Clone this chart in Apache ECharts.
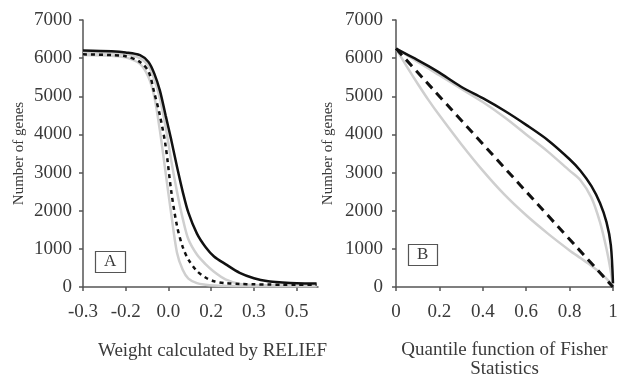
<!DOCTYPE html>
<html>
<head>
<meta charset="utf-8">
<script src="https://cdn.jsdelivr.net/npm/echarts@6/dist/echarts.min.js"></script>
<style>
  html, body { margin: 0; padding: 0; background: #fff; }
  #container { width: 618px; height: 375px; }
</style>
</head>
<body>
<div id="container"></div>
<script>
// panel A: weight calculated by RELIEF
var xA = [-0.3, -0.2, -0.15, -0.1, -0.07, -0.05, -0.03, -0.01, 0.01, 0.03, 0.05, 0.07, 0.1, 0.13, 0.16, 0.2, 0.25, 0.3, 0.35, 0.4, 0.45, 0.52];
var blackA  = [6200, 6180, 6150, 6080, 5900, 5600, 5150, 4500, 3850, 3150, 2500, 1950, 1400, 1050, 800, 600, 370, 230, 150, 120, 100, 90];
var grayMidA = [6150, 6130, 6100, 6000, 5800, 5450, 4950, 4200, 3300, 2500, 1800, 1250, 850, 600, 400, 200, 80, 50, 45, 40, 40, 40];
var dashA   = [6100, 6080, 6050, 5900, 5650, 5100, 4500, 3700, 2500, 1600, 1050, 720, 420, 250, 150, 100, 80, 70, 65, 60, 60, 60];
var grayLowA = [6080, 6060, 6020, 5850, 5500, 5000, 4100, 3000, 1900, 900, 450, 220, 100, 60, 40, 30, 25, 20, 20, 20, 20, 20];
var xTickValuesA = [-0.3, -0.15, 0, 0.15, 0.3, 0.45];
var xTickLabelsA = ['-0.3', '-0.2', '0.0', '0.2', '0.3', '0.5'];

// panel B: quantile function of Fisher statistics
var xB = [0, 0.05, 0.1, 0.15, 0.2, 0.3, 0.4, 0.5, 0.6, 0.7, 0.8, 0.85, 0.9, 0.94, 0.97, 0.99, 1.0];
var blackB   = [6250, 6100, 5950, 5790, 5620, 5250, 4950, 4620, 4250, 3850, 3350, 3050, 2650, 2200, 1700, 1100, 100];
var grayHighB = [6250, 6080, 5900, 5730, 5550, 5200, 4850, 4450, 4000, 3550, 3050, 2800, 2350, 1700, 1000, 400, 0];
var grayLowB = [6250, 5780, 5330, 4900, 4500, 3750, 3050, 2420, 1880, 1400, 960, 760, 560, 380, 220, 90, 0];
var dashB = [6250, 0];
var dashXB = [0, 1];

var yTicks = [0, 1000, 2000, 3000, 4000, 5000, 6000, 7000];

function pairs(xs, ys) {
  return xs.map(function (x, i) { return [x, ys[i]]; });
}

var font = 'Liberation Serif';
var txt = '#3a3a3a';
var axisCol = '#555';
var grayCol = '#cfcfcf';

function yAxis(idx, gap, margin) {
  return {
    type: 'value', gridIndex: idx, min: yTicks[0], max: yTicks[yTicks.length - 1], interval: 1000,
    name: 'Number of genes', nameLocation: 'middle', nameGap: gap,
    nameTextStyle: { fontFamily: font, fontSize: 15, color: txt },
    axisLine: { show: true, onZero: false, lineStyle: { color: axisCol, width: 1.5 } },
    axisTick: { show: true, length: 4, lineStyle: { color: axisCol, width: 1.5 } },
    axisLabel: { fontFamily: font, fontSize: 19, color: txt, margin: margin,
      formatter: function (v) { return String(v); } },
    splitLine: { show: false }
  };
}

function line(idx, data, color, width, type) {
  return {
    type: 'line', xAxisIndex: idx, yAxisIndex: idx, data: data,
    smooth: 0.3, showSymbol: false, symbol: 'none', z: color === grayCol ? 2 : 3,
    lineStyle: { color: color, width: width, type: type || 'solid' }
  };
}

var myChart = echarts.init(document.getElementById('container'), null, { renderer: 'canvas' });

var boxText = { fontFamily: font, fontSize: 17, lineHeight: 16, fontWeight: 'normal', color: txt };

var option = {
  animation: false,
  backgroundColor: '#fff',
  title: [
    { text: 'A', left: 95, top: 252, padding: [2, 9, 2, 9], borderColor: axisCol, borderWidth: 1.2, textStyle: boxText },
    { text: 'B', left: 408, top: 245, padding: [2, 9, 2, 9], borderColor: axisCol, borderWidth: 1.2, textStyle: boxText }
  ],
  grid: [
    { left: 83, top: 20, width: 235, height: 267, outerBoundsMode: 'none' },
    { left: 396, top: 20, width: 217, height: 267, outerBoundsMode: 'none' }
  ],
  xAxis: [
    {
      type: 'value', gridIndex: 0, min: -0.3, max: 0.525,
      name: 'Weight calculated by RELIEF', nameLocation: 'middle', nameGap: 55,
      nameTextStyle: { fontFamily: font, fontSize: 19, color: txt, verticalAlign: 'top', padding: [0, 0, 0, 24] },
      axisLine: { show: true, onZero: false, lineStyle: { color: axisCol, width: 1.5 } },
      axisTick: { show: true, length: 4, customValues: xTickValuesA, lineStyle: { color: axisCol, width: 1.5 } },
      axisLabel: {
        fontFamily: font, fontSize: 19, color: txt, margin: 16, customValues: xTickValuesA,
        formatter: function (v) {
          var i = Math.round((v - xTickValuesA[0]) / 0.15);
          return xTickLabelsA[i] || '';
        }
      },
      splitLine: { show: false }
    },
    {
      type: 'value', gridIndex: 1, min: 0, max: 1, interval: 0.2,
      name: 'Quantile function of Fisher\nStatistics', nameLocation: 'middle', nameGap: 54,
      nameTextStyle: { fontFamily: font, fontSize: 19, color: txt, lineHeight: 19, verticalAlign: 'top' },
      axisLine: { show: true, onZero: false, lineStyle: { color: axisCol, width: 1.5 } },
      axisTick: { show: true, length: 4, lineStyle: { color: axisCol, width: 1.5 } },
      axisLabel: {
        fontFamily: font, fontSize: 19, color: txt, margin: 16,
        formatter: function (v) { return (v === 0 || v === 1) ? String(v) : v.toFixed(1); }
      },
      splitLine: { show: false }
    }
  ],
  yAxis: [yAxis(0, 56, 11), yAxis(1, 60, 13)],
  series: [
    line(0, pairs(xA, grayLowA), grayCol, 2.5),
    line(0, pairs(xA, grayMidA), grayCol, 2.5),
    line(0, pairs(xA, dashA), '#111', 2.5, [4, 4]),
    line(0, pairs(xA, blackA), '#111', 2.5),
    line(1, pairs(xB, grayLowB), grayCol, 2.5),
    line(1, pairs(xB, grayHighB), grayCol, 2.5),
    line(1, pairs(dashXB, dashB), '#111', 3, [9, 6]),
    line(1, pairs(xB, blackB), '#111', 2.5)
  ]
};

myChart.setOption(option);
window.addEventListener('resize', myChart.resize);
</script>
</body>
</html>
